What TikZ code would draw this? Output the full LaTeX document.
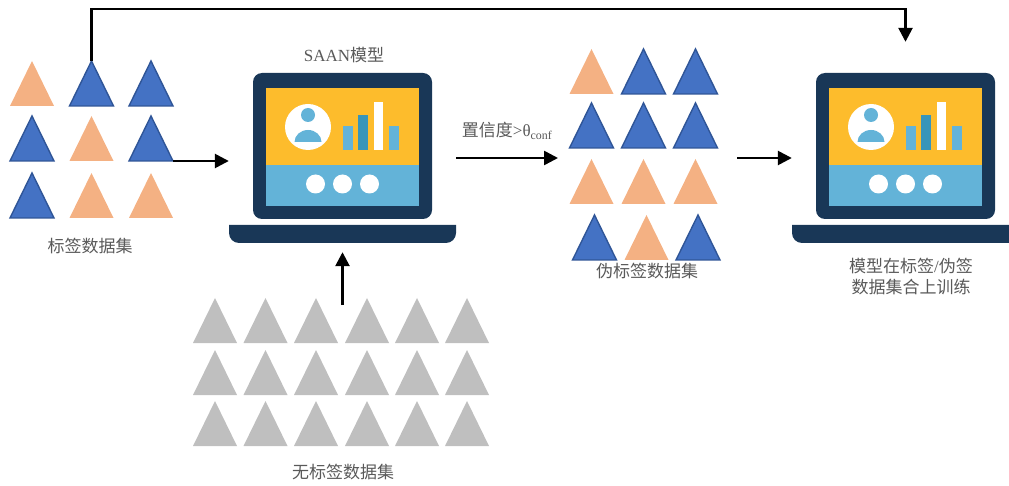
\documentclass[tikz,border=0pt]{standalone}
\usepackage{fontspec}
\setmainfont{Liberation Serif}
\newfontfamily\cjk{Noto Sans CJK SC}
\usetikzlibrary{arrows.meta}

\definecolor{navy}{RGB}{25,55,87}
\definecolor{scryellow}{RGB}{253,188,44}
\definecolor{scrblue}{RGB}{99,179,216}
\definecolor{barteal}{RGB}{55,149,186}
\definecolor{triblue}{RGB}{68,114,196}
\definecolor{triedge}{RGB}{47,85,151}
\definecolor{triorange}{RGB}{244,177,131}
\definecolor{trigray}{RGB}{191,191,191}
\definecolor{labelgray}{RGB}{89,89,89}

\tikzset{
  tb/.style={fill=triblue, draw=triedge, line width=1.4pt, line join=miter},
  to/.style={fill=triorange},
  tg/.style={fill=trigray},
  arr/.style={line width=2.6pt, -{Triangle[width=14pt,length=14pt]}},
  lbl/.style={text=labelgray, font=\fontsize{17}{21}\selectfont, align=center, inner sep=0pt},
  lapbox/.style={minimum width=227pt, minimum height=170pt, inner sep=0pt},
  pics/laptop/.style={code={
    % screen frame
    \fill[navy, rounded corners=9pt] (-89.5,-85) rectangle (89.5,61);
    \fill[scryellow] (-76.5,-70) rectangle (76.5,7);
    \fill[scrblue] (-76.5,7) rectangle (76.5,48);
    % keyboard base (y axis points down, so angles run clockwise)
    \fill[navy] (-113.5,67) -- (113.5,67) -- (113.5,75)
      arc[start angle=0, end angle=90, radius=10] -- (-103.5,85)
      arc[start angle=90, end angle=180, radius=10] -- cycle;
    % user avatar
    \fill[white] (-34.5,-31) circle[radius=23];
    \fill[scrblue] (-34.5,-43) circle[radius=7];
    \fill[scrblue] (-48,-16) arc[start angle=180, end angle=360, x radius=13.5, y radius=12] -- cycle;
    % bar chart
    \fill[scrblue] (0.5,-32) rectangle (10.5,-8);
    \fill[barteal] (15.5,-43) rectangle (25.5,-8);
    \fill[white] (31.5,-56) rectangle (40.5,-8);
    \fill[scrblue] (46.5,-32) rectangle (56.5,-8);
    % three dots
    \foreach \dx in {-27,0,27} \fill[white] (\dx,26) circle[radius=9.5];
  }}
}

% triangle: name, apex x, apex y, style
\newcommand\tri[4]{%
  \coordinate (#1) at (#2,#3);
  \coordinate (#1-r) at (#2+22,#3+45);
  \path[#4] (#1) -- (#2+22,#3+45) -- (#2-22,#3+45) -- cycle;}

\begin{document}
\begin{tikzpicture}[x=1pt, y=-1pt]
\useasboundingbox (0,0) rectangle (1009,486);

% labelled set
\tri{L11}{32}{61}{to}   \tri{L12}{91.5}{61}{tb}  \tri{L13}{151}{61}{tb}
\tri{L21}{32}{116}{tb}  \tri{L22}{91.5}{116}{to} \tri{L23}{151}{116}{tb}
\tri{L31}{32}{173}{tb}  \tri{L32}{91.5}{173}{to} \tri{L33}{151}{173}{to}
\node[lbl] (labset) at (90,246) {\cjk 标签数据集};

% unlabelled set
\foreach \c/\x in {1/215,2/265.5,3/316,4/367,5/417,6/467}
  \foreach \r/\y in {1/298,2/350,3/401}
    {\tri{U\r\c}{\x}{\y}{tg}}
\node[lbl] (unlset) at (343,472) {\cjk 无标签数据集};
\coordinate (utop) at (342.5,305);

% pseudo-labelled set
\tri{P11}{591.5}{49}{to}  \tri{P12}{643.5}{49}{tb}  \tri{P13}{695.5}{49}{tb}
\tri{P21}{591.5}{103}{tb} \tri{P22}{643.5}{103}{tb} \tri{P23}{695.5}{103}{tb}
\tri{P31}{591.5}{159}{to} \tri{P32}{643.5}{159}{to} \tri{P33}{695.5}{159}{to}
\tri{P41}{594.5}{215}{tb} \tri{P42}{646.5}{215}{to} \tri{P43}{698}{215}{tb}
\node[lbl] (psdset) at (647,271) {\cjk 伪标签数据集};
\coordinate (pin) at (558,158);
\coordinate (pout) at (737,158);

% models
\node[lapbox] (lap1) at (342.5,158) {};
\pic at (lap1.center) {laptop};
\node[lbl] (saan) at (344,55) {SAAN{\cjk 模型}};

\node[lapbox] (lap2) at (905.5,158) {};
\pic at (lap2.center) {laptop};
\node[lbl] (train) at (911,277) {{\cjk 模型在标签}/{\cjk 伪签}\\{\cjk 数据集合上训练}};

% connectors
\draw[arr] (L23-r) -- (L23-r -| lap1.west);
\draw[arr] (utop) -- ([yshift=-9pt]lap1.south);
\draw[arr] (lap1.east) -- (pin)
  node[lbl, midway, above=17pt] (conf) {{\cjk 置信度}>θ\textsubscript{conf}};
\draw[arr] (pout) -- (lap2.west);
\draw[arr, line join=miter] (L12) -- ++(0,-52) -| ([yshift=31pt]lap2.north);
\end{tikzpicture}
\end{document}
